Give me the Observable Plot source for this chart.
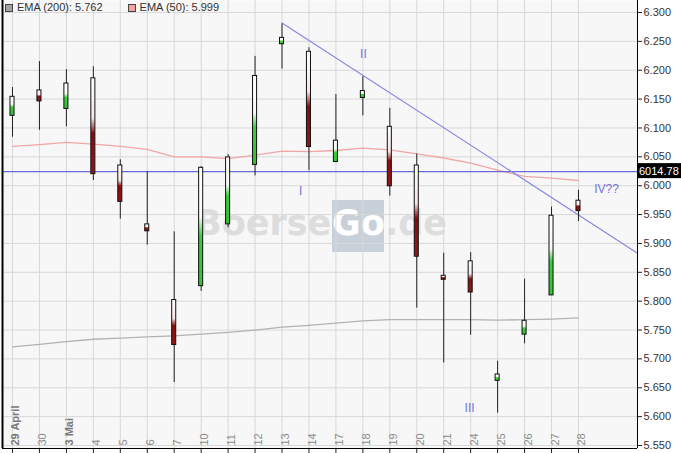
<!DOCTYPE html>
<html>
<head>
<meta charset="utf-8">
<script src="https://cdn.jsdelivr.net/npm/d3@7"></script>
<script src="https://cdn.jsdelivr.net/npm/@observablehq/plot@0.6"></script>
<style>
  body { margin: 0; background: #fff; font-family: "Liberation Sans", Arial, sans-serif; }
  #wrap { position: relative; width: 681px; height: 453px; overflow: hidden; }
  #legend { position: absolute; left: 5px; top: 1px; font-size: 11px; color: #333; white-space: nowrap; line-height: 13px; }
  #legend .item { display: inline-flex; align-items: center; }
  #legend .sw { display: inline-block; width: 6px; height: 6px; border: 1px solid #444; margin-right: 4px; }
</style>
</head>
<body>
<div id="wrap">
  <div id="chart"></div>
  <div id="legend"></div>
</div>
<script>
// ---- data ----
const dayLabels = ["29 April","30","3 Mai","4","5","6","7","10","11","12","13","14","17","18","19","20","21","24","25","26","27","28"];
const openVals  = [6.121, 6.165, 6.133, 6.186, 6.035, 5.933, 5.802, 5.826, 5.933, 6.036, 6.245, 6.232, 6.041, 6.152, 6.102, 6.035, 5.844, 5.869, 5.662, 5.742, 5.810, 5.974];
const highVals  = [6.170, 6.215, 6.201, 6.206, 6.045, 6.024, 5.920, 6.033, 6.054, 6.224, 6.280, 6.239, 6.158, 6.189, 6.134, 6.055, 5.883, 5.884, 5.696, 5.838, 5.963, 5.992];
const lowVals   = [6.084, 6.096, 6.102, 6.009, 5.942, 5.897, 5.659, 5.817, 5.927, 6.017, 6.202, 6.026, 6.040, 6.121, 5.982, 5.788, 5.693, 5.741, 5.606, 5.726, 5.810, 5.938];
const closeVals = [6.154, 6.146, 6.177, 6.020, 5.972, 5.921, 5.724, 6.031, 6.049, 6.190, 6.256, 6.067, 6.078, 6.164, 5.999, 5.877, 5.837, 5.815, 5.673, 5.766, 5.948, 5.956];
const ema200 = [5.721, 5.725, 5.730, 5.734, 5.736, 5.738, 5.740, 5.743, 5.746, 5.750, 5.755, 5.758, 5.762, 5.766, 5.768, 5.768, 5.768, 5.768, 5.767, 5.768, 5.769, 5.771];
const ema50  = [6.068, 6.071, 6.075, 6.072, 6.068, 6.063, 6.050, 6.050, 6.047, 6.053, 6.060, 6.059, 6.061, 6.065, 6.062, 6.055, 6.048, 6.039, 6.027, 6.016, 6.013, 6.009];
const yTicks = [5.55, 5.60, 5.65, 5.70, 5.75, 5.80, 5.85, 5.90, 5.95, 6.00, 6.05, 6.10, 6.15, 6.20, 6.25, 6.30];
const trendIdx = [10, 23.19];
const trendVal = [6.282, 5.883];
const levelLineVal = 6.0244;
const levelText = "6014.78";
const waveText = ["I", "II", "III", "IV??"];
const waveIdx  = [10.69, 13.02, 16.96, 22.04];
const waveVal  = [5.991, 6.228, 5.614, 5.994];
const legendNames  = ["EMA (200): 5.762", "EMA (50): 5.999"];
const legendColors = ["#a3a3a3", "#f2a0a0"];

// ---- build ----
const idx = d3.range(dayLabels.length);
const candles = idx.map(i => ({i, o: openVals[i], h: highVals[i], l: lowVals[i], c: closeVals[i], up: closeVals[i] >= openVals[i]}));
const halfW = 0.075;
const xDomain = [-0.371, 23.19];
const yDomain = [5.5448, 6.3208];
const isBold = i => dayLabels[i].includes(" ");

const plot = Plot.plot({
  width: 681, height: 453,
  marginLeft: 2, marginRight: 44, marginTop: 0, marginBottom: 5,
  x: {domain: xDomain, axis: null},
  y: {domain: yDomain, axis: null},
  style: {background: "white", fontFamily: "Liberation Sans, Arial, sans-serif", fontSize: "11px", color: "#222", overflow: "visible"},
  marks: [
    Plot.frame({fill: "#f7f7f7", stroke: "none"}),
    Plot.gridX(idx, {x: d => d, stroke: "#d8d8d8", strokeOpacity: 1}),
    Plot.gridY(yTicks, {y: d => d, stroke: "#d8d8d8", strokeOpacity: 1}),
    Plot.text(idx.filter(i => !isBold(i)), {x: d => d, frameAnchor: "bottom", text: i => dayLabels[i], rotate: -90, textAnchor: "start", dx: 7, dy: -3, fill: "#8c8c8c", fontSize: 11}),
    Plot.text(idx.filter(i => isBold(i)), {x: d => d, frameAnchor: "bottom", text: i => dayLabels[i], rotate: -90, textAnchor: "start", dx: 7, dy: -3, fill: "#7a7a7a", fontSize: 11, fontWeight: "bold"}),
    Plot.line(idx, {x: d => d, y: i => ema200[i], stroke: "#b2b2b2", strokeWidth: 1.3}),
    Plot.line(idx, {x: d => d, y: i => ema50[i], stroke: "#f2a6a6", strokeWidth: 1.3}),
    Plot.ruleY([levelLineVal], {y: d => d, stroke: "#6a6ad8", strokeWidth: 1.2}),
    Plot.line(trendIdx, {x: d => d, y: (d, i) => trendVal[i], stroke: "#8787e6", strokeWidth: 1.2}),
    Plot.ruleX(candles, {x: "i", y1: "l", y2: "h", stroke: "#222", strokeWidth: 1}),
    Plot.rect(candles.filter(d => d.up), {x1: d => d.i - halfW, x2: d => d.i + halfW, y1: "o", y2: "c", fill: "url(#gUp)", stroke: "#111", strokeWidth: 1}),
    Plot.rect(candles.filter(d => !d.up), {x1: d => d.i - halfW, x2: d => d.i + halfW, y1: "o", y2: "c", fill: "url(#gDn)", stroke: "#111", strokeWidth: 1}),
    Plot.text(waveText, {x: (d, i) => waveIdx[i], y: (d, i) => waveVal[i], text: d => d, fill: "#7474d6", fontSize: 12}),
    Plot.axisY(yTicks, {anchor: "right", label: null, tickSize: 4, tickPadding: 2, tickFormat: d3.format(".3f"), fill: "#333"}),
    Plot.axisX(idx, {anchor: "bottom", label: null, tickSize: 5, tickFormat: () => ""}),
    Plot.ruleX([xDomain[0]], {x: d => d, stroke: "#000", strokeWidth: 2}),
    Plot.ruleX([xDomain[1]], {x: d => d, stroke: "#000", strokeWidth: 1}),
    Plot.ruleY([yDomain[0]], {y: d => d, stroke: "#000", strokeWidth: 1})
  ]
});

const svgNS = "http://www.w3.org/2000/svg";
const svg = d3.select(plot);

// gradients for candle bodies
const defs = svg.insert("defs", ":first-child");
function grad(id, stops) {
  const g = defs.append("linearGradient").attr("id", id).attr("x1", 0).attr("y1", 0).attr("x2", 0).attr("y2", 1);
  stops.forEach(([o, c]) => g.append("stop").attr("offset", o).attr("stop-color", c));
}
grad("gUp", [[0, "#ffffff"], [0.42, "#f4fbf4"], [0.58, "#3ccc3c"], [1, "#36c036"]]);
grad("gDn", [[0, "#ffffff"], [0.42, "#f6e6e6"], [0.58, "#8c0c0c"], [1, "#901818"]]);

// watermark, placed just above the plot background
const wm = document.createElementNS(svgNS, "g");
const wmSel = d3.select(wm).attr("font-family", "DejaVu Sans, sans-serif").attr("font-weight", "bold")
  .attr("font-size", 35).attr("text-anchor", "start");
wmSel.append("text").attr("x", 195).attr("y", 235).attr("fill", "#dddddd").text("Boerse");
wmSel.append("rect").attr("x", 332).attr("y", 200).attr("width", 52).attr("height", 52).attr("fill", "#c8d1da");
wmSel.append("text").attr("x", 332).attr("y", 235).attr("fill", "#ffffff").text("Go");
wmSel.append("text").attr("x", 385).attr("y", 235).attr("fill", "#dddddd").text(".de");
const frameEl = plot.querySelector('[aria-label="frame"]');
if (frameEl) frameEl.after(wm); else plot.insertBefore(wm, plot.querySelector("defs").nextSibling);

// price tag on the right axis
const ly = plot.scale("y").apply(levelLineVal);
const tag = svg.append("g").attr("text-anchor", "start");
tag.append("rect").attr("x", 681 - 44).attr("y", ly - 8).attr("width", 44).attr("height", 15).attr("fill", "#000");
tag.append("text").attr("x", 639).attr("y", ly).attr("dy", "0.35em").attr("fill", "#fff").attr("font-size", 11).text(levelText);

document.getElementById("chart").appendChild(plot);

// legend
const leg = d3.select("#legend");
legendNames.forEach((n, i) => {
  const it = leg.append("span").attr("class", "item").style("margin-right", i === 0 ? "25px" : "0");
  it.append("span").attr("class", "sw").style("background", legendColors[i]);
  it.append("span").text(n);
});
</script>
</body>
</html>
